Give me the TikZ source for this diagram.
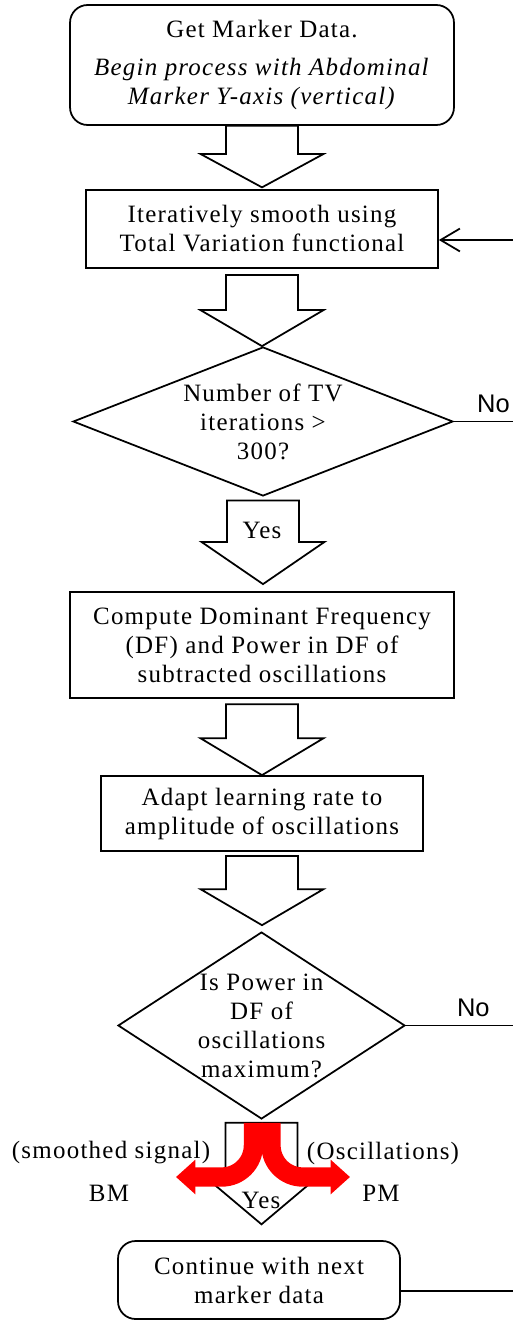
\documentclass[tikz,border=0pt]{standalone}
\usepackage{fontspec}
\setmainfont[LetterSpace=5]{Liberation Serif}
\newfontfamily\nofont{Liberation Sans}
\usetikzlibrary{shapes.geometric,arrows.meta,calc}

\tikzset{
  process/.style={draw, line width=1pt, align=center, inner sep=0pt},
  startstop/.style={process, rounded corners=10pt},
  decision/.style={diamond, draw, line width=1pt, inner sep=0pt},
  bigarrow/.style={draw, line width=1pt, fill=white, line join=miter},
  redarrow/.style={red, line width=11pt, rounded corners=18pt, -{Triangle[length=11pt,width=19pt]}},
  nolabel/.style={font=\nofont\fontsize{14.5}{16}\selectfont, above, yshift=1pt}
}

% block arrow: top point, tip point, head length
\newcommand{\blockarrow}[3]{%
  \draw[bigarrow] let \p1=#1, \p2=#2 in
    (\x1-20.5pt,\y1) -- (\x1-20.5pt,\y2+#3) -- (\x1-35pt,\y2+#3) -- (\x1,\y2)
    -- (\x1+35pt,\y2+#3) -- (\x1+20.5pt,\y2+#3) -- (\x1+20.5pt,\y1) -- cycle;}

\begin{document}
\begin{tikzpicture}[x=0.02cm, y=-0.02cm, font=\fontsize{14.2}{16.5}\selectfont]
      \useasboundingbox (0,0) rectangle (513,1321);
      \node[startstop, minimum width=7.68cm, minimum height=2.4cm] (start) at (262,65)
        {Get Marker Data.\\[5pt] \textit{Begin process with Abdominal}\\ \textit{Marker Y-axis (vertical)}};
      \node[process, minimum width=7.04cm, minimum height=1.56cm] (smooth) at (262,229)
        {Iteratively smooth using\\Total Variation functional};
      \node[decision, minimum width=7.6cm, minimum height=2.98cm] (iter) at (263,421.5) {};
      \node[align=center] (itertext) at (iter.center) {Number of TV\\iterations >\\300?};
      \node[process, minimum width=7.68cm, minimum height=2.12cm] (domfreq) at (262,645)
        {Compute Dominant Frequency\\(DF) and Power in DF of\\subtracted oscillations};
      \node[process, minimum width=6.44cm, minimum height=1.5cm] (adapt) at (262,813.5)
        {Adapt learning rate to\\amplitude of oscillations};
      \node[decision, minimum width=5.74cm, minimum height=3.74cm] (power) at (261.5,1025.5) {};
      \node[align=center] (powertext) at (power.center) {Is Power in\\DF of\\oscillations\\maximum?};
      \node[startstop, minimum width=5.64cm, minimum height=1.56cm] (next) at (259,1280)
        {Continue with next\\marker data};

      \blockarrow{(start.south)}{([yshift=1pt]smooth.north)}{19pt} % start -> smooth
      \blockarrow{([yshift=-3.5pt]smooth.south)}{(iter.north)}{20.5pt} % smooth -> iter
      \blockarrow{([yshift=-2pt]iter.south)}{([yshift=4pt]domfreq.north)}{24pt} % iter -> domfreq
      \node (yes1) at (262,530) {Yes};
      \blockarrow{([yshift=-3pt]domfreq.south)}{(adapt.north)}{21pt} % domfreq -> adapt
      \blockarrow{([yshift=-2.3pt]adapt.south)}{([yshift=3.4pt]power.north)}{20.5pt} % adapt -> power
      \blockarrow{([yshift=-1.7pt]power.south)}{([yshift=9pt]next.north)}{29.5pt} % power -> next
      \node (yes2) at (261,1200) {Yes};

      % split into BM and PM
      \coordinate (bmtip) at (176,1177);
      \coordinate (pmtip) at (350,1177);
      \draw[redarrow] ([xshift=-4.6pt,yshift=-1.7pt]power.south) |- (bmtip);
      \draw[redarrow] ([xshift=5.4pt,yshift=-1.7pt]power.south) |- (pmtip);
      \node (smoothed) at (111,1153) {(smoothed signal)};
      \node (bm) at (109,1193) {BM};
      \node (osc) at (383,1153) {(Oscillations)};
      \node (pm) at (381,1193) {PM};

      % loop back on the right
      \coordinate (loop) at (513,240);
      \coordinate (cont) at (513,1291);
      \draw[line width=1pt, -{Straight Barb[length=11pt,width=13pt]}] (loop) -- (loop -| smooth.east); % back -> smooth
      \draw[line width=1pt] (iter.east) -- (iter.east -| loop) node[nolabel, pos=0.67] {No}; % iter -> back
      \draw[line width=1pt] (power.east) -- (power.east -| loop) node[nolabel, pos=0.63] {No}; % power -> back
      \draw[line width=1pt] (cont -| next.east) -- (cont); % next -> back
    \end{tikzpicture}
\end{document}
